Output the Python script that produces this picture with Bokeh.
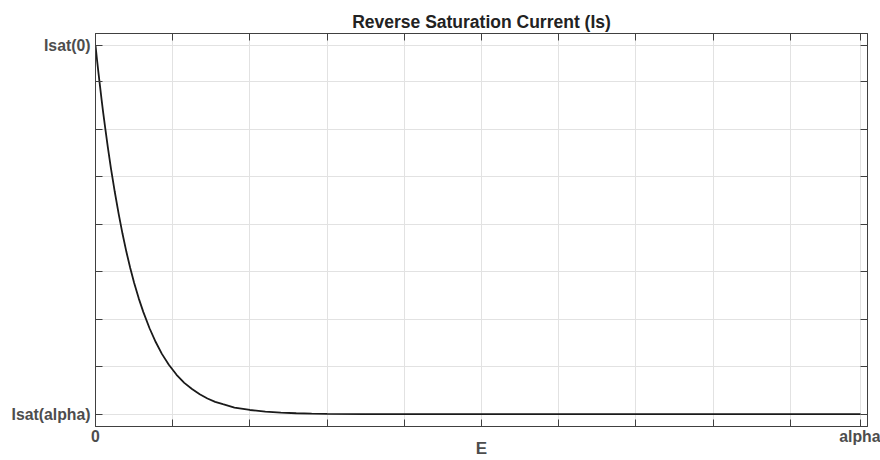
from bokeh.plotting import figure
from bokeh.models import Range1d, LinearAxis, FixedTicker
from bokeh.embed import file_html
from bokeh.resources import INLINE

# ---- data (x in grid divisions of E, y in grid divisions above Isat(alpha)) ----
E_vals = [0.0, 0.02, 0.04, 0.06, 0.08, 0.10, 0.13, 0.16, 0.20, 0.25, 0.30,
          0.35, 0.40, 0.45, 0.50, 0.56, 0.62, 0.70, 0.78, 0.86, 0.95, 1.05,
          1.15, 1.25, 1.35, 1.45, 1.55, 1.65, 1.80, 2.00, 2.20, 2.40, 2.60,
          2.80, 3.00, 3.50, 4.00, 5.0, 6.0, 7.0, 8.0, 9.0, 9.91]
Is_vals = [7.77, 7.46, 7.17, 6.89, 6.61, 6.35, 5.98, 5.62, 5.18, 4.68, 4.22,
           3.80, 3.42, 3.08, 2.77, 2.44, 2.15, 1.81, 1.52, 1.27, 1.04, 0.83,
           0.66, 0.53, 0.42, 0.33, 0.26, 0.21, 0.14, 0.088, 0.053, 0.032, 0.019,
           0.011, 0.0065, 0.001, 0.0, 0.0, 0.0, 0.0, 0.0, 0.0, 0.0]

x_start, x_end = 0.0, 10.0
y_start, y_end = -0.26, 8.02
x_ticks = [0, 1, 2, 3, 4, 5, 6, 7, 8, 9, 9.91]
x_labels = ["0", "", "", "", "", "", "", "", "", "", "alpha"]
y_ticks = [0, 1, 2, 3, 4, 5, 6, 7, 7.77]
y_labels = ["Isat(alpha)", "", "", "", "", "", "", "", "Isat(0)"]

title_text = "Reverse Saturation Current (Is)"
x_title = "E"

FONT = "Liberation Sans"
AX = "#404040"
LBL = "#4d4d4d"

p = figure(width=880, height=460, output_backend="svg", toolbar_location=None,
           x_range=Range1d(x_start, x_end), y_range=Range1d(y_start, y_end),
           min_border_left=95, min_border_right=13, min_border_top=33,
           min_border_bottom=34, x_axis_location=None, y_axis_location=None)

p.title.text = title_text
p.title.align = "center"
p.title.text_font = FONT
p.title.text_font_size = "17.5px"
p.title.text_font_style = "bold"
p.title.text_color = "#222222"
p.title.standoff = 4
p.title.offset = 0

p.outline_line_color = AX
p.outline_line_width = 1
p.background_fill_color = "white"
p.border_fill_color = "white"


def style_axis(ax, ticks, labels, show_labels=True):
    ax.ticker = FixedTicker(ticks=ticks)
    ax.major_label_overrides = {t: (l if show_labels else "") for t, l in zip(ticks, labels)}
    ax.major_tick_in = 7
    ax.major_tick_out = 0
    ax.minor_tick_line_color = None
    ax.major_tick_line_color = AX
    ax.axis_line_color = AX
    ax.major_label_text_font = FONT
    ax.major_label_text_font_size = "15.8px"
    ax.major_label_text_font_style = "bold"
    ax.major_label_text_color = LBL


xb = LinearAxis()
style_axis(xb, x_ticks, x_labels)
xb.major_label_standoff = 1
xb.axis_label = x_title
xb.axis_label_text_font = FONT
xb.axis_label_text_font_size = "17px"
xb.axis_label_text_font_style = "bold"
xb.axis_label_text_color = LBL
xb.axis_label_standoff = -9
p.add_layout(xb, "below")

xt = LinearAxis()
style_axis(xt, x_ticks, x_labels, show_labels=False)
xt.major_label_standoff = 0
p.add_layout(xt, "above")

yl = LinearAxis()
style_axis(yl, y_ticks, y_labels)
yl.major_label_standoff = 5
p.add_layout(yl, "left")

yr = LinearAxis()
style_axis(yr, y_ticks, y_labels, show_labels=False)
yr.major_label_standoff = 0
p.add_layout(yr, "right")

p.xgrid.ticker = FixedTicker(ticks=x_ticks)
p.ygrid.ticker = FixedTicker(ticks=y_ticks)
p.xgrid.grid_line_color = "#e2e2e2"
p.ygrid.grid_line_color = "#e2e2e2"

p.line(E_vals, Is_vals, line_color="#1a1a1a", line_width=1.8)

open("out.html", "w").write(file_html(p, INLINE))
